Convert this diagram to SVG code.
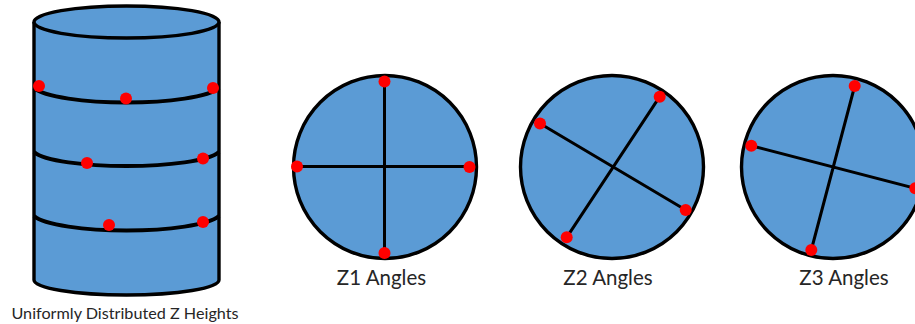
<svg xmlns="http://www.w3.org/2000/svg" width="915" height="324" viewBox="0 0 915 324">
<style>
.body{fill:#5b9bd5;stroke:#000;stroke-width:3.400}
.thin{fill:none;stroke:#000;stroke-width:3}
.band{fill:none;stroke:#000;stroke-width:4}
.dot{fill:#f00;stroke:none}
.lbl{font-family:"Lato","Open Sans","Liberation Sans",sans-serif;fill:#262626;text-anchor:middle}
</style>
<rect width="915" height="324" fill="#fff"/>
<g id="cylinder">
<path class="body" d="M34 22V280C34 288 75 295 126.500 295S219 288 219 280V22"/>
<ellipse class="body" cx="126.500" cy="22" rx="92.500" ry="16"/>
<path class="band" d="M34 88C44 97 85 102.500 126.500 102.500S209 97 219 88"/>
<path class="band" d="M34 152C44 161 85 166 126.500 166S209 161 219 152"/>
<path class="band" d="M34 216C44 225 85 230.500 126.500 230.500S209 225 219 216"/>
<circle class="dot" cx="39" cy="86" r="6"/>
<circle class="dot" cx="126" cy="98.500" r="6"/>
<circle class="dot" cx="213" cy="88" r="6"/>
<circle class="dot" cx="87" cy="163" r="6"/>
<circle class="dot" cx="203" cy="158.500" r="6"/>
<circle class="dot" cx="109" cy="225" r="6"/>
<circle class="dot" cx="203" cy="222" r="6"/>
<text class="lbl" x="125" y="319" font-size="16.200">Uniformly Distributed Z Heights</text>
</g>
<g id="z1">
<circle class="body" cx="385" cy="167" r="91.500"/>
<path class="thin" d="M384.500 81.500V253M297 166.500H469.500"/>
<circle class="dot" cx="384.500" cy="81.500" r="6"/>
<circle class="dot" cx="297" cy="166.500" r="6"/>
<circle class="dot" cx="469.500" cy="167" r="6"/>
<circle class="dot" cx="384.500" cy="253" r="6"/>
<text class="lbl" x="381.500" y="285" font-size="20.500">Z1 Angles</text>
</g>
<g id="z2">
<circle class="body" cx="612" cy="167" r="91.500"/>
<path class="thin" d="M540 123.500L685.700 210M659.700 96.700L566.700 237.300"/>
<circle class="dot" cx="540" cy="123.500" r="6"/>
<circle class="dot" cx="659.700" cy="96.700" r="6"/>
<circle class="dot" cx="685.700" cy="210" r="6"/>
<circle class="dot" cx="566.700" cy="237.300" r="6"/>
<text class="lbl" x="608" y="285" font-size="20.500">Z2 Angles</text>
</g>
<g id="z3">
<circle class="body" cx="833" cy="167" r="91.500"/>
<path class="thin" d="M751.300 145.700L915.300 188.300M854.700 86L811.300 250"/>
<circle class="dot" cx="751.300" cy="145.700" r="6"/>
<circle class="dot" cx="854.700" cy="86" r="6"/>
<circle class="dot" cx="811.300" cy="250" r="6"/>
<circle class="dot" cx="915.300" cy="188.300" r="6"/>
<text class="lbl" x="844" y="285" font-size="20.500">Z3 Angles</text>
</g>
</svg>
